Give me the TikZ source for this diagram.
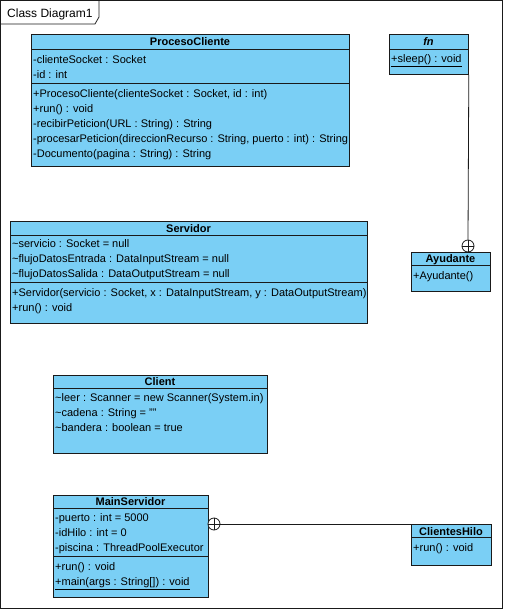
\documentclass[tikz,border=0pt]{standalone}
\usepackage{fontspec}
\setmainfont{Liberation Sans}
\definecolor{clsfill}{HTML}{7ACFF5}
\definecolor{clsline}{HTML}{1A1A1A}
\tikzset{
  cls/.style={draw=clsline, fill=clsfill, line width=0.8pt, rectangle, inner sep=0pt, anchor=north west},
  txt/.style={anchor=base west, inner sep=0pt, font=\fontsize{11}{13}\selectfont},
  hdr/.style={anchor=base, inner sep=0pt, font=\fontsize{11}{13}\selectfont\bfseries},
  divline/.style={draw=clsline, line width=0.8pt},
  conn/.style={draw=clsline, line width=0.8pt},
  nest/.style={circle, draw=clsline, fill=white, line width=0.8pt, minimum size=12pt, inner sep=0pt}
}
\begin{document}
\begin{tikzpicture}[x=1pt,y=-1pt]
\useasboundingbox (0,0) rectangle (504,610);
% frame
\draw[line width=0.8pt, draw=clsline] (0.5,0.5) rectangle (502.5,608.5);
\draw[line width=0.8pt, draw=clsline] (0.5,24) -- (95,24) -- (99,17) -- (99,0.5);
\node[anchor=base west, inner sep=0pt, font=\fontsize{12}{14}\selectfont] (title) at (7,17.5) {Class Diagram1};

% ProcesoCliente
\node[cls, minimum width=318pt, minimum height=132pt] (pc) at (31,34) {};
\draw[divline] (pc.west |- 0,49) -- (pc.east |- 0,49);
\draw[divline] (pc.west |- 0,83) -- (pc.east |- 0,83);
\node[hdr] (pch) at (190,46) {ProcesoCliente};
\node[txt] (pca1) at (33,63.3) {-clienteSocket : Socket};
\node[txt] (pca2) at (33,78) {-id : int};
\node[txt] (pcm1) at (33,97.7) {+ProcesoCliente(clienteSocket : Socket, id : int)};
\node[txt] (pcm2) at (33,112.3) {+run() : void};
\node[txt] (pcm3) at (33,127.3) {-recibirPeticion(URL : String) : String};
\node[txt] (pcm4) at (33,142.3) {-procesarPeticion(direccionRecurso : String, puerto : int) : String};
\node[txt] (pcm5) at (33,157.3) {-Documento(pagina : String) : String};

% fn
\node[cls, minimum width=79pt, minimum height=40pt] (fn) at (389,34) {};
\draw[divline] (fn.west |- 0,49) -- (fn.east |- 0,49);
\node[hdr, font=\fontsize{11}{13}\selectfont\bfseries\itshape] (fnh) at (428.5,46) {fn};
\node[txt] (fnm1) at (391,63) {\underline{+sleep() : void}};

% Ayudante
\node[cls, minimum width=79pt, minimum height=39pt] (ay) at (411,252) {};
\draw[divline] (ay.west |- 0,265) -- (ay.east |- 0,265);
\node[hdr] (ayh) at (450.5,262.5) {Ayudante};
\node[txt] (aym1) at (413,279) {+Ayudante()};

% Servidor
\node[cls, minimum width=357pt, minimum height=102pt] (sv) at (10,221) {};
\draw[divline] (sv.west |- 0,235) -- (sv.east |- 0,235);
\draw[divline] (sv.west |- 0,282) -- (sv.east |- 0,282);
\node[hdr] (svh) at (188.5,232) {Servidor};
\node[txt] (sva1) at (12,247.3) {\textasciitilde servicio : Socket = null};
\node[txt] (sva2) at (12,262.3) {\textasciitilde flujoDatosEntrada : DataInputStream = null};
\node[txt] (sva3) at (12,277.3) {\textasciitilde flujoDatosSalida : DataOutputStream = null};
\node[txt] (svm1) at (12,296.3) {+Servidor(servicio : Socket, x : DataInputStream, y : DataOutputStream)};
\node[txt] (svm2) at (12,311.3) {+run() : void};

% Client
\node[cls, minimum width=214pt, minimum height=78pt] (cl) at (53,375) {};
\draw[divline] (cl.west |- 0,388) -- (cl.east |- 0,388);
\node[hdr] (clh) at (160,385.5) {Client};
\node[txt] (cla1) at (55,401.3) {\textasciitilde leer : Scanner = new Scanner(System.in)};
\node[txt] (cla2) at (55,416.3) {\textasciitilde cadena : String = ""};
\node[txt] (cla3) at (55,431.3) {\textasciitilde bandera : boolean = true};

% MainServidor
\node[cls, minimum width=155pt, minimum height=102pt] (ms) at (53,495) {};
\draw[divline] (ms.west |- 0,508) -- (ms.east |- 0,508);
\draw[divline] (ms.west |- 0,556) -- (ms.east |- 0,556);
\node[hdr] (msh) at (130.5,505.5) {MainServidor};
\node[txt] (msa1) at (55,521.3) {-puerto : int = 5000};
\node[txt] (msa2) at (55,536.3) {-idHilo : int = 0};
\node[txt] (msa3) at (55,551.3) {-piscina : ThreadPoolExecutor};
\node[txt] (msm1) at (55,570.3) {+run() : void};
\node[txt] (msm2) at (55,585.3) {\underline{+main(args : String[]) : void}};

% ClientesHilo
\node[cls, minimum width=80pt, minimum height=41pt] (ch) at (411,524) {};
\draw[divline] (ch.west |- 0,537) -- (ch.east |- 0,537);
\node[hdr] (chh) at (451,535) {ClientesHilo};
\node[txt] (chm1) at (413,551.3) {+run() : void};

% connectors (nesting)
\node[nest] (n1) at (468,246) {};
\draw[conn] (fn.south east) -- (n1.north);
\draw[conn] (n1.north) -- (n1.south) (n1.west) -- (n1.east);

\node[nest] (n2) at (214,524) {};
\draw[conn] (n2.east) -- (ch.north west);
\draw[conn] (n2.north) -- (n2.south) (n2.west) -- (n2.east);
\end{tikzpicture}
\end{document}
